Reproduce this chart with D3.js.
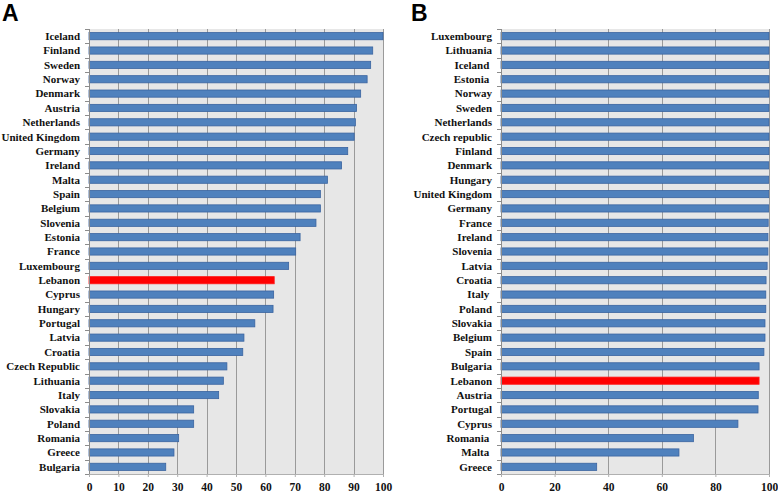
<!DOCTYPE html>
<html>
<head>
<meta charset="utf-8">
<script src="https://cdn.jsdelivr.net/npm/d3@7"></script>
<style>
  html, body { margin: 0; padding: 0; background: #ffffff; }
  svg { display: block; }
  .cat text { white-space: pre; }
</style>
</head>
<body>
<svg id="chart" width="778" height="493"></svg>
<script>
// ---- Data ----
const countriesA = ["Iceland","Finland","Sweden","Norway","Denmark","Austria","Netherlands","United Kingdom","Germany","Ireland","Malta","Spain","Belgium","Slovenia","Estonia","France","Luxembourg","Lebanon","Cyprus","Hungary","Portugal","Latvia","Croatia","Czech Republic","Lithuania","Italy","Slovakia","Poland","Romania","Greece","Bulgaria"];
const valuesA = [100,96.5,95.8,94.6,92.4,91.0,90.6,90.2,88.0,85.9,81.1,78.7,78.7,77.2,71.8,70.3,67.9,63.0,62.8,62.6,56.4,52.7,52.3,46.9,45.7,44.1,35.6,35.6,30.5,28.9,26.1];
const ticksA = [0,10,20,30,40,50,60,70,80,90,100];

const countriesB = ["Luxembourg","Lithuania","Iceland ","Estonia ","Norway","Sweden","Netherlands","Czech republic","Finland","Denmark","Hungary","United Kingdom","Germany","France","Ireland","Slovenia","Latvia","Croatia","Italy ","Poland","Slovakia","Belgium","Spain","Bulgaria","Lebanon","Austria","Portugal","Cyprus","Romania ","Malta ","Greece"];
const valuesB = [100,100,100,100,100,100,100,100,100,99.9,99.9,99.9,99.9,99.7,99.6,99.6,99.3,98.9,98.8,98.8,98.5,98.5,98.1,96.3,96.3,96.0,95.9,88.4,71.8,66.4,35.7];
const ticksB = [0,20,40,60,80,100];

const highlight = "Lebanon";

// ---- Drawing ----
const svg = d3.select("#chart");

function panel(opts) {
  const {cats, vals, ticks, x0, x1, y0, y1, letter, lx, ly} = opts;
  const g = svg.append("g");
  const x = d3.scaleLinear().domain([0, 100]).range([x0, x1]);
  const y = d3.scaleBand().domain(cats).range([y0, y1]).paddingInner(0.5).paddingOuter(0.25);

  // plot background
  g.append("rect")
    .attr("x", x0).attr("y", y0)
    .attr("width", x1 - x0).attr("height", y1 - y0)
    .attr("fill", "#e7e7e7");

  // gridlines
  const gridVals = ticks.filter(t => t > 0);
  g.append("g").selectAll("line").data(gridVals).join("line")
    .attr("x1", d => Math.round(x(d)) + 0.5).attr("x2", d => Math.round(x(d)) + 0.5)
    .attr("y1", y0).attr("y2", y1)
    .attr("stroke", "#9a9a9a").attr("stroke-width", 1);

  // bars
  g.append("g").selectAll("rect").data(cats).join("rect")
    .attr("x", x(0))
    .attr("y", d => y(d))
    .attr("width", (d, i) => x(vals[i]) - x(0))
    .attr("height", y.bandwidth())
    .attr("fill", d => d.trim() === highlight ? "#ff0000" : "#4f81bd")
    .attr("stroke", d => d.trim() === highlight ? "#ff1a1a" : "#3a64a0")
    .attr("stroke-width", 0.8);

  // left axis: line + boundary ticks
  const step = y.step();
  const bounds = d3.range(cats.length + 1).map(i => y0 + i * step);
  g.append("line")
    .attr("x1", x0 + 0.5).attr("x2", x0 + 0.5)
    .attr("y1", y0).attr("y2", y1)
    .attr("stroke", "#8c8c8c");
  g.append("g").selectAll("line").data(bounds).join("line")
    .attr("x1", x0 - 4).attr("x2", x0)
    .attr("y1", d => Math.round(d) + 0.5).attr("y2", d => Math.round(d) + 0.5)
    .attr("stroke", "#8c8c8c");

  // category labels
  g.append("g").attr("class", "cat").selectAll("text").data(cats).join("text")
    .attr("x", x0 - 9)
    .attr("y", d => y(d) + y.bandwidth() / 2)
    .attr("dy", "0.35em")
    .attr("text-anchor", "end")
    .attr("font-family", "'Liberation Serif', 'Times New Roman', serif")
    .attr("font-weight", "bold")
    .attr("font-size", 11)
    .attr("fill", "#111")
    .text(d => d);

  // bottom axis
  const ax = g.append("g")
    .attr("transform", `translate(0,${y1})`)
    .call(d3.axisBottom(x).tickValues(ticks).tickSizeInner(3).tickSizeOuter(0).tickPadding(6).tickFormat(d3.format("d")));
  ax.select(".domain").attr("stroke", "#b0b0b0");
  ax.selectAll(".tick line").attr("stroke", "#b0b0b0");
  ax.selectAll("text")
    .attr("font-family", "'Liberation Serif', 'Times New Roman', serif")
    .attr("font-weight", "bold")
    .attr("font-size", 11.5)
    .attr("fill", "#111");

  // panel letter
  svg.append("text")
    .attr("x", lx).attr("y", ly)
    .attr("font-family", "'Liberation Sans', Arial, sans-serif")
    .attr("font-weight", "bold")
    .attr("font-size", 23)
    .attr("fill", "#000")
    .text(letter);
}

panel({cats: countriesA, vals: valuesA, ticks: ticksA, x0: 89, x1: 383, y0: 29, y1: 474, letter: "A", lx: 2, ly: 21});
panel({cats: countriesB, vals: valuesB, ticks: ticksB, x0: 501, x1: 769, y0: 29, y1: 474, letter: "B", lx: 411, ly: 21});
</script>
</body>
</html>
